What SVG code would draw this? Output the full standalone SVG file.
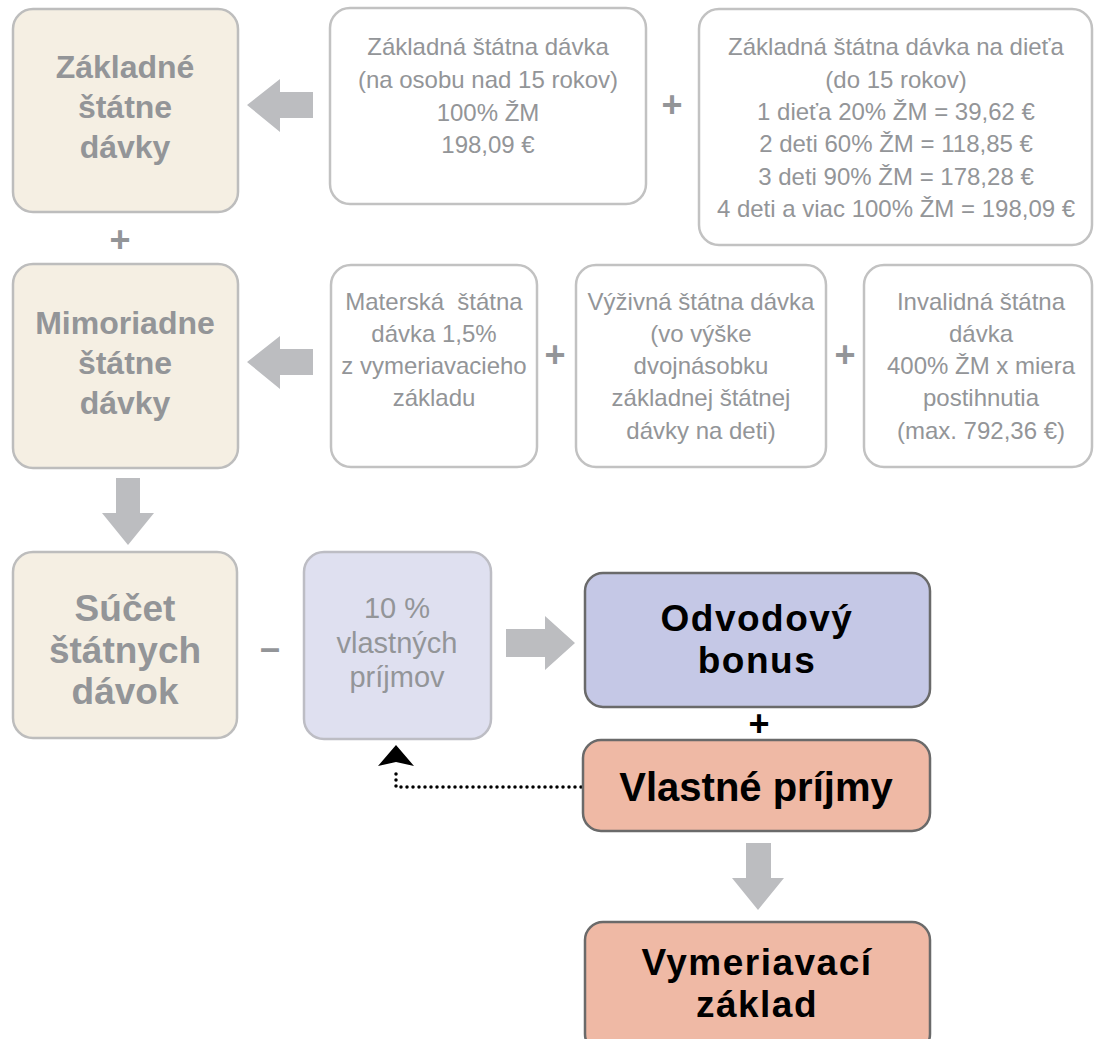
<svg xmlns="http://www.w3.org/2000/svg" width="1094" height="1039" viewBox="0 0 1094 1039">
<style>
.gb{fill:#f5efe3;stroke:#bdbdbd;stroke-width:2.5}
.wb{fill:#ffffff;stroke:#c2c2c2;stroke-width:2.5}
.lb{fill:#dfe0f0;stroke:#bdbdc4;stroke-width:2.5}
.bb{fill:#c5c8e6;stroke:#6a6a6a;stroke-width:2.5}
.ob{fill:#efb9a5;stroke:#6a6a6a;stroke-width:2.5}
text{font-family:"Liberation Sans",Arial,sans-serif;text-anchor:middle}
.tg{font-size:32px;font-weight:bold;fill:#939598}
.tr{font-size:24px;fill:#939598}
.tk{font-size:40px;font-weight:bold;fill:#000}
.tk2{font-size:37px;font-weight:bold;fill:#000;letter-spacing:1.5px}
.op{font-size:36px;font-weight:bold;fill:#939598}
.arr{fill:#bcbdc0}
</style>
<g id="connectors">
<polygon class="arr" points="247,105 280,79 280,92 313,92 313,118 280,118 280,132"/>
<polygon class="arr" points="247,362 280,336 280,349 313,349 313,375 280,375 280,389"/>
<polygon class="arr" points="116,478 140,478 140,513 154,513 128,545 102,513 116,513"/>
<polygon class="arr" points="506,629 545,629 545,616 575,643 545,670 545,657 506,657"/>
<polygon class="arr" points="746,843 771,843 771,878 784,878 758,910 732,878 746,878"/>
<path d="M581,787 H396 V770" fill="none" stroke="#000" stroke-width="3.5" stroke-dasharray="0 6" stroke-linecap="round"/>
<polygon points="396,745 414,766 396,762 378,766" fill="#000"/>
</g>
<g id="ops">
<text class="op" x="672" y="117">+</text>
<text class="op" x="120" y="252">+</text>
<text class="op" x="555" y="367">+</text>
<text class="op" x="845" y="367">+</text>
<text class="op" x="270" y="660">–</text>
<text class="op" x="759" y="736" style="fill:#000">+</text>
</g>
<g id="n1">
<rect class="gb" x="13" y="9" width="225" height="203" rx="20"/>
<text class="tg" x="125" y="78">Základné</text>
<text class="tg" x="125" y="118">štátne</text>
<text class="tg" x="125" y="158">dávky</text>
</g>
<g id="n2">
<rect class="wb" x="330" y="8" width="316" height="196" rx="20"/>
<text class="tr" x="488" y="55">Základná štátna dávka</text>
<text class="tr" x="488" y="88">(na osobu nad 15 rokov)</text>
<text class="tr" x="488" y="121">100% ŽM</text>
<text class="tr" x="488" y="153">198,09 €</text>
</g>
<g id="n3">
<rect class="wb" x="699" y="9" width="393" height="236" rx="20"/>
<text class="tr" x="896" y="55">Základná štátna dávka na dieťa</text>
<text class="tr" x="896" y="88">(do 15 rokov)</text>
<text class="tr" x="896" y="120">1 dieťa 20% ŽM = 39,62 €</text>
<text class="tr" x="896" y="152">2 deti 60% ŽM = 118,85 €</text>
<text class="tr" x="896" y="185">3 deti 90% ŽM = 178,28 €</text>
<text class="tr" x="896" y="217">4 deti a viac 100% ŽM = 198,09 €</text>
</g>
<g id="n4">
<rect class="gb" x="13" y="264" width="225" height="204" rx="20"/>
<text class="tg" x="125" y="334">Mimoriadne</text>
<text class="tg" x="125" y="374">štátne</text>
<text class="tg" x="125" y="414">dávky</text>
</g>
<g id="n5">
<rect class="wb" x="331" y="265" width="206" height="202" rx="20"/>
<text class="tr" x="434" y="310" xml:space="preserve">Materská  štátna</text>
<text class="tr" x="434" y="342">dávka 1,5%</text>
<text class="tr" x="434" y="374">z vymeriavacieho</text>
<text class="tr" x="434" y="406">základu</text>
</g>
<g id="n6">
<rect class="wb" x="576" y="265" width="250" height="202" rx="20"/>
<text class="tr" x="701" y="310">Výživná štátna dávka</text>
<text class="tr" x="701" y="342">(vo výške</text>
<text class="tr" x="701" y="374">dvojnásobku</text>
<text class="tr" x="701" y="406">základnej štátnej</text>
<text class="tr" x="701" y="439">dávky na deti)</text>
</g>
<g id="n7">
<rect class="wb" x="864" y="265" width="228" height="202" rx="20"/>
<text class="tr" x="981" y="310">Invalidná štátna</text>
<text class="tr" x="981" y="342">dávka</text>
<text class="tr" x="981" y="374">400% ŽM x miera</text>
<text class="tr" x="981" y="406">postihnutia</text>
<text class="tr" x="981" y="439">(max. 792,36 €)</text>
</g>
<g id="n8">
<rect class="gb" x="13" y="552" width="224" height="186" rx="20"/>
<text class="tg" x="125" y="621" style="font-size:37px">Súčet</text>
<text class="tg" x="125" y="663" style="font-size:37px">štátnych</text>
<text class="tg" x="125" y="704" style="font-size:37px">dávok</text>
</g>
<g id="n9">
<rect class="lb" x="304" y="552" width="187" height="187" rx="20"/>
<text class="tr" x="397" y="618" style="font-size:29px">10 %</text>
<text class="tr" x="397" y="653" style="font-size:29px">vlastných</text>
<text class="tr" x="397" y="687" style="font-size:29px">príjmov</text>
</g>
<g id="n10">
<rect class="bb" x="585" y="573" width="345" height="134" rx="18"/>
<text class="tk2" x="757" y="631">Odvodový</text>
<text class="tk2" x="757" y="673">bonus</text>
</g>
<g id="n11">
<rect class="ob" x="583" y="740" width="347" height="91" rx="18"/>
<text class="tk" x="756" y="801">Vlastné príjmy</text>
</g>
<g id="n12">
<rect class="ob" x="585" y="922" width="345" height="130" rx="18"/>
<text class="tk2" x="757" y="975">Vymeriavací</text>
<text class="tk2" x="757" y="1017">základ</text>
</g>
</svg>
